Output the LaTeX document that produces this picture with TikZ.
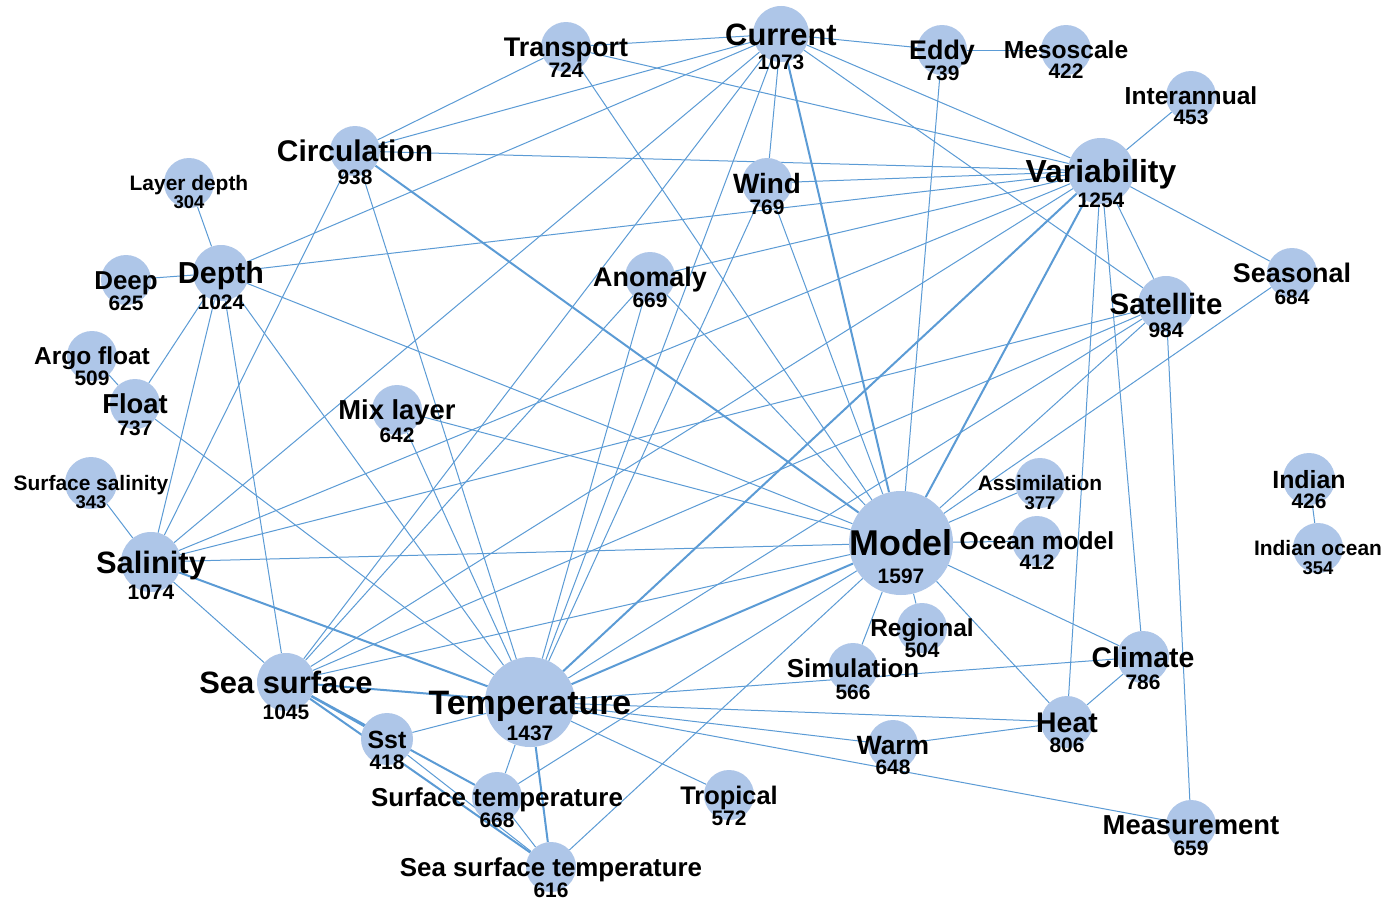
\documentclass[tikz,border=0pt]{standalone}
\usepackage{fontspec}
\setmainfont{Liberation Sans}
\pgfdeclarelayer{edges}
\pgfdeclarelayer{labels}
\pgfsetlayers{edges,main,labels}
\definecolor{nodefill}{RGB}{174,198,232}
\definecolor{edgecol}{RGB}{91,155,213}
\tikzset{
  kwc/.style={circle, fill=nodefill, draw=none, inner sep=0pt},
  kwt/.style={inner sep=0pt, anchor=base, text=black},
  ln/.style={draw=edgecol, line width=1bp},
  tk/.style={draw=edgecol, line width=2bp},
}
\newcommand\kw[9][21]{%
  \node[kwc, minimum size={2*#5 bp}] (#2) at (#3,#4) {};
  \begin{pgfonlayer}{labels}
    \node[kwt, font=\bfseries\fontsize{#7}{#7}\selectfont] (#2-l) at (#3,#4+0.36*#7) {#6};
    \node[kwt, font=\bfseries\fontsize{#1}{#1}\selectfont] (#2-n) at (#3,#4+#9+0.36*#1) {#8};
  \end{pgfonlayer}
}
\begin{document}
\begin{tikzpicture}[x=1bp,y=-1bp]
\useasboundingbox (0,0) rectangle (1384,901);
\begin{pgfonlayer}{edges}
\fill[white] (0,0) rectangle (1384,901);
\end{pgfonlayer}
\kw{model}{901}{543}{52}{Model}{36}{1597}{33}
\kw{temp}{530}{702}{45}{Temperature}{34}{1437}{31}
\kw{var}{1101}{171}{33}{Variability}{32}{1254}{29}
\kw{sal}{151}{562}{30}{Salinity}{31}{1074}{30}
\kw{seasurf}{286}{682}{29}{Sea surface}{31}{1045}{30}
\kw{current}{781}{34}{28}{Current}{31}{1073}{28}
\kw{depth}{221}{273}{28}{Depth}{30.5}{1024}{29}
\kw{sat}{1166}{304}{28}{Satellite}{29.5}{984}{26}
\kw{circ}{355}{151}{25}{Circulation}{30}{938}{26}
\kw{heat}{1067}{722}{26}{Heat}{28.5}{806}{23}
\kw{climate}{1143}{657}{26}{Climate}{28.5}{786}{25}
\kw{wind}{767}{183}{25}{Wind}{28}{769}{24}
\kw{eddy}{942}{50}{25}{Eddy}{27}{739}{23}
\kw{transport}{566}{47}{25}{Transport}{27}{724}{23}
\kw{float}{135}{404}{25}{Float}{27.5}{737}{24}
\kw{anomaly}{650}{277}{25}{Anomaly}{27}{669}{23}
\kw{seasonal}{1292}{273}{25}{Seasonal}{27}{684}{24}
\kw{warm}{893}{745}{25}{Warm}{26.5}{648}{22}
\kw{mix}{397}{410}{25}{Mix layer}{27.5}{642}{25}
\kw{tropical}{729}{795}{25}{Tropical}{25.5}{572}{23}
\kw{deep}{126}{280}{25}{Deep}{26}{625}{23}
\kw{measure}{1191}{825}{25}{Measurement}{27.5}{659}{23}
\kw{surft}{497}{797}{25}{Surface temperature}{26}{668}{23}
\kw{sim}{853}{668}{25}{Simulation}{26}{566}{24}
\kw{argo}{92}{356}{25}{Argo float}{24.6}{509}{22}
\kw{sst}{387}{739}{26}{Sst}{25}{418}{23}
\kw{sstemp}{551}{867}{25}{Sea surface temperature}{26}{616}{23}
\kw{meso}{1066}{50}{25}{Mesoscale}{24.7}{422}{21}
\kw{inter}{1191}{96}{25}{Interannual}{24.7}{453}{21}
\kw{regional}{922}{628}{25}{Regional}{24.6}{504}{22}
\kw{indian}{1309}{479}{26}{Indian}{25}{426}{22}
\kw{ocean}{1037}{541}{25}{Ocean model}{24.7}{412}{21}
\kw[18.5]{assim}{1040}{483}{25}{Assimilation}{21}{377}{20}
\kw[18.5]{layer}{189}{183}{25}{Layer depth}{21}{304}{19}
\kw[18.5]{surfsal}{91}{483}{26}{Surface salinity}{21}{343}{19}
\kw[18.5]{indocean}{1318}{548}{25}{Indian ocean}{21}{354}{20}
\begin{pgfonlayer}{edges}
% thick
\draw[tk] (circ) -- (model);
\draw[tk] (current) -- (model);
\draw[tk] (var) -- (model);
\draw[tk] (var) -- (temp);
\draw[tk] (model) -- (temp);
\draw[tk] (sal) -- (temp);
\draw[tk] (seasurf) -- (temp);
\draw[tk] (seasurf) -- (sst);
\draw[tk] (seasurf) -- (surft);
\draw[tk] (seasurf) -- (sstemp);
\draw[tk] (temp) -- (sstemp);
% normal
\draw[ln] (transport) -- (current);
\draw[ln] (transport) -- (circ);
\draw[ln] (transport) -- (var);
\draw[ln] (transport) -- (model);
\draw[ln] (current) -- (eddy);
\draw[ln] (current) -- (circ);
\draw[ln] (current) -- (depth);
\draw[ln] (current) -- (var);
\draw[ln] (current) -- (sat);
\draw[ln] (current) -- (wind);
\draw[ln] (current) -- (sal);
\draw[ln] (current) -- (seasurf);
\draw[ln] (current) -- (temp);
\draw[ln] (eddy) -- (meso);
\draw[ln] (eddy) -- (model);
\draw[ln] (inter) -- (var);
\draw[ln] (var) -- (seasonal);
\draw[ln] (var) -- (sat);
\draw[ln] (var) -- (circ);
\draw[ln] (var) -- (wind);
\draw[ln] (var) -- (depth);
\draw[ln] (var) -- (anomaly);
\draw[ln] (var) -- (sal);
\draw[ln] (var) -- (seasurf);
\draw[ln] (var) -- (climate);
\draw[ln] (var) -- (heat);
\draw[ln] (seasonal) -- (model);
\draw[ln] (sat) -- (measure);
\draw[ln] (sat) -- (sal);
\draw[ln] (sat) -- (seasurf);
\draw[ln] (sat) -- (temp);
\draw[ln] (sat) -- (model);
\draw[ln] (circ) -- (sal);
\draw[ln] (circ) -- (temp);
\draw[ln] (layer) -- (depth);
\draw[ln] (deep) -- (depth);
\draw[ln] (depth) -- (float);
\draw[ln] (depth) -- (sal);
\draw[ln] (depth) -- (seasurf);
\draw[ln] (depth) -- (temp);
\draw[ln] (depth) -- (model);
\draw[ln] (wind) -- (model);
\draw[ln] (wind) -- (temp);
\draw[ln] (anomaly) -- (model);
\draw[ln] (anomaly) -- (temp);
\draw[ln] (anomaly) -- (seasurf);
\draw[ln] (argo) -- (float);
\draw[ln] (float) -- (temp);
\draw[ln] (surfsal) -- (sal);
\draw[ln] (mix) -- (model);
\draw[ln] (mix) -- (temp);
\draw[ln] (sal) -- (model);
\draw[ln] (sal) -- (seasurf);
\draw[ln] (seasurf) -- (model);
\draw[ln] (sst) -- (temp);
\draw[ln] (sst) -- (sstemp);
\draw[ln] (surft) -- (sstemp);
\draw[ln] (temp) -- (surft);
\draw[ln] (temp) -- (climate);
\draw[ln] (temp) -- (heat);
\draw[ln] (temp) -- (warm);
\draw[ln] (temp) -- (measure);
\draw[ln] (temp) -- (tropical);
\draw[ln] (surft) -- (model);
\draw[ln] (sstemp) -- (model);
\draw[ln] (model) -- (assim);
\draw[ln] (model) -- (ocean);
\draw[ln] (model) -- (regional);
\draw[ln] (model) -- (sim);
\draw[ln] (model) -- (heat);
\draw[ln] (model) -- (climate);
\draw[ln] (heat) -- (climate);
\draw[ln] (heat) -- (warm);
\draw[ln] (indian) -- (indocean);
\end{pgfonlayer}
\end{tikzpicture}
\end{document}
